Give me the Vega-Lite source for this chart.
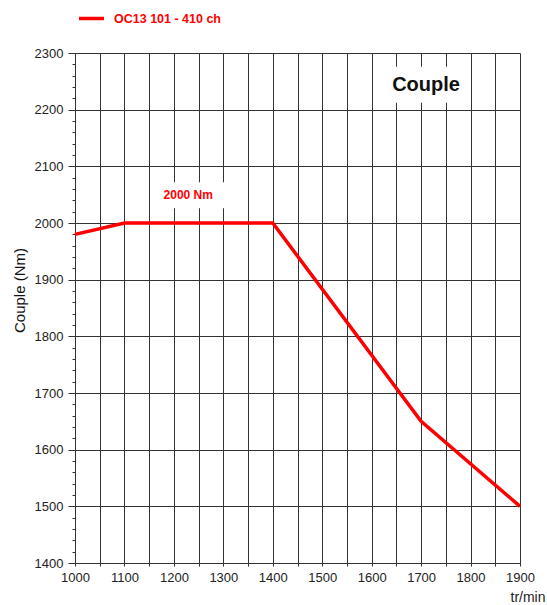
{
  "$schema": "https://vega.github.io/schema/vega-lite/v6.json",
  "autosize": {"type": "none"},
  "width": 445,
  "height": 510,
  "padding": {"left": 75, "top": 53, "right": 27, "bottom": 42},
  "background": "white",
  "config": {
    "view": {"stroke": null},
    "font": "Liberation Sans"
  },
  "datasets": {
    "curve": [
      {"rpm": 1000, "couple": 1980, "serie": "OC13 101 - 410 ch"},
      {"rpm": 1100, "couple": 2000, "serie": "OC13 101 - 410 ch"},
      {"rpm": 1400, "couple": 2000, "serie": "OC13 101 - 410 ch"},
      {"rpm": 1700, "couple": 1650, "serie": "OC13 101 - 410 ch"},
      {"rpm": 1900, "couple": 1500, "serie": "OC13 101 - 410 ch"}
    ],
    "notes": [
      {"rpm": 1710, "couple": 2244, "label": "Couple", "kind": "title"},
      {"rpm": 1229, "couple": 2049, "label": "2000 Nm", "kind": "value"}
    ]
  },
  "layer": [
    {
      "data": {"name": "curve"},
      "mark": {"type": "line", "strokeWidth": 3.5, "clip": false},
      "encoding": {
        "x": {
          "field": "rpm", "type": "quantitative",
          "scale": {"domain": [1000, 1900], "nice": false, "zero": false},
          "axis": {
            "values": [1000,1050,1100,1150,1200,1250,1300,1350,1400,1450,1500,1550,1600,1650,1700,1750,1800,1850,1900],
            "tickCount": 200,
            "labelExpr": "datum.value % 100 == 0 ? datum.label : ''",
            "format": "d",
            "grid": true, "gridColor": "#333", "gridWidth": 1, "gridOpacity": 1,
            "domainColor": "#333", "domainWidth": 1,
            "tickColor": "#333", "tickSize": 3,
            "labelFontSize": 13, "labelColor": "#222", "labelPadding": 5,
            "labelFlush": false, "labelOverlap": false,
            "title": "tr/min", "titleFontSize": 14, "titleFontWeight": "normal", "titleColor": "#222",
            "titleAnchor": "end", "titleAlign": "right", "titleBaseline": "alphabetic",
            "titleX": 470, "titleY": 38
          }
        },
        "y": {
          "field": "couple", "type": "quantitative",
          "scale": {"domain": [1400, 2300], "nice": false, "zero": false},
          "axis": {
            "values": [1400,1420,1440,1460,1480,1500,1520,1540,1560,1580,1600,1620,1640,1660,1680,1700,1720,1740,1760,1780,1800,1820,1840,1860,1880,1900,1920,1940,1960,1980,2000,2020,2040,2060,2080,2100,2120,2140,2160,2180,2200,2220,2240,2260,2280,2300],
            "tickCount": 200,
            "labelExpr": "datum.value % 100 == 0 ? datum.label : ''",
            "format": "d",
            "grid": true, "gridColor": "#333", "gridWidth": 1,
            "gridOpacity": {"condition": {"test": "datum.value % 100 == 0", "value": 1}, "value": 0},
            "tickSize": {"condition": {"test": "datum.value % 100 == 0", "value": 7}, "value": 3},
            "tickColor": "#333",
            "domainColor": "#333", "domainWidth": 1,
            "labelFontSize": 13, "labelColor": "#222", "labelPadding": 5,
            "labelFlush": false, "labelOverlap": false,
            "title": "Couple (Nm)", "titleFontSize": 15, "titleFontWeight": "normal", "titleColor": "#111",
            "titleAngle": -90, "titleAlign": "center", "titleBaseline": "middle",
            "titleX": -56, "titleY": 237
          }
        },
        "color": {
          "field": "serie", "type": "nominal",
          "scale": {"domain": ["OC13 101 - 410 ch"], "range": ["#ff0000"]},
          "legend": {
            "orient": "none", "legendX": 2, "legendY": -49,
            "title": null, "padding": 0,
            "symbolType": "stroke", "symbolSize": 625, "symbolStrokeWidth": 3.5,
            "labelColor": "#ff0000", "labelFontWeight": "bold", "labelFontSize": 12.5,
            "labelOffset": 8
          }
        }
      }
    },
    {
      "data": {"name": "notes"},
      "mark": {"type": "point", "filled": true, "opacity": 1, "color": "white", "strokeWidth": 0},
      "encoding": {
        "x": {"field": "rpm", "type": "quantitative"},
        "y": {"field": "couple", "type": "quantitative"},
        "shape": {
          "field": "kind", "type": "nominal",
          "scale": {"domain": ["title", "value"], "range": ["M-1,-0.48H1V0.48H-1Z", "M-1,-0.34H1V0.34H-1Z"]},
          "legend": null
        },
        "size": {
          "field": "kind", "type": "nominal",
          "scale": {"domain": ["title", "value"], "range": [5625, 5776]},
          "legend": null
        }
      }
    },
    {
      "data": {"name": "notes"},
      "mark": {"type": "text", "fontWeight": "bold", "baseline": "middle", "align": "center"},
      "encoding": {
        "x": {"field": "rpm", "type": "quantitative"},
        "y": {"field": "couple", "type": "quantitative"},
        "text": {"field": "label"},
        "color": {
          "field": "kind", "type": "nominal",
          "scale": {"domain": ["title", "value"], "range": ["#111111", "#ff0000"]},
          "legend": null
        },
        "size": {
          "field": "kind", "type": "nominal",
          "scale": {"domain": ["title", "value"], "range": [20, 12]},
          "legend": null
        }
      }
    }
  ],
  "resolve": {"scale": {"color": "independent", "size": "independent"}}
}
